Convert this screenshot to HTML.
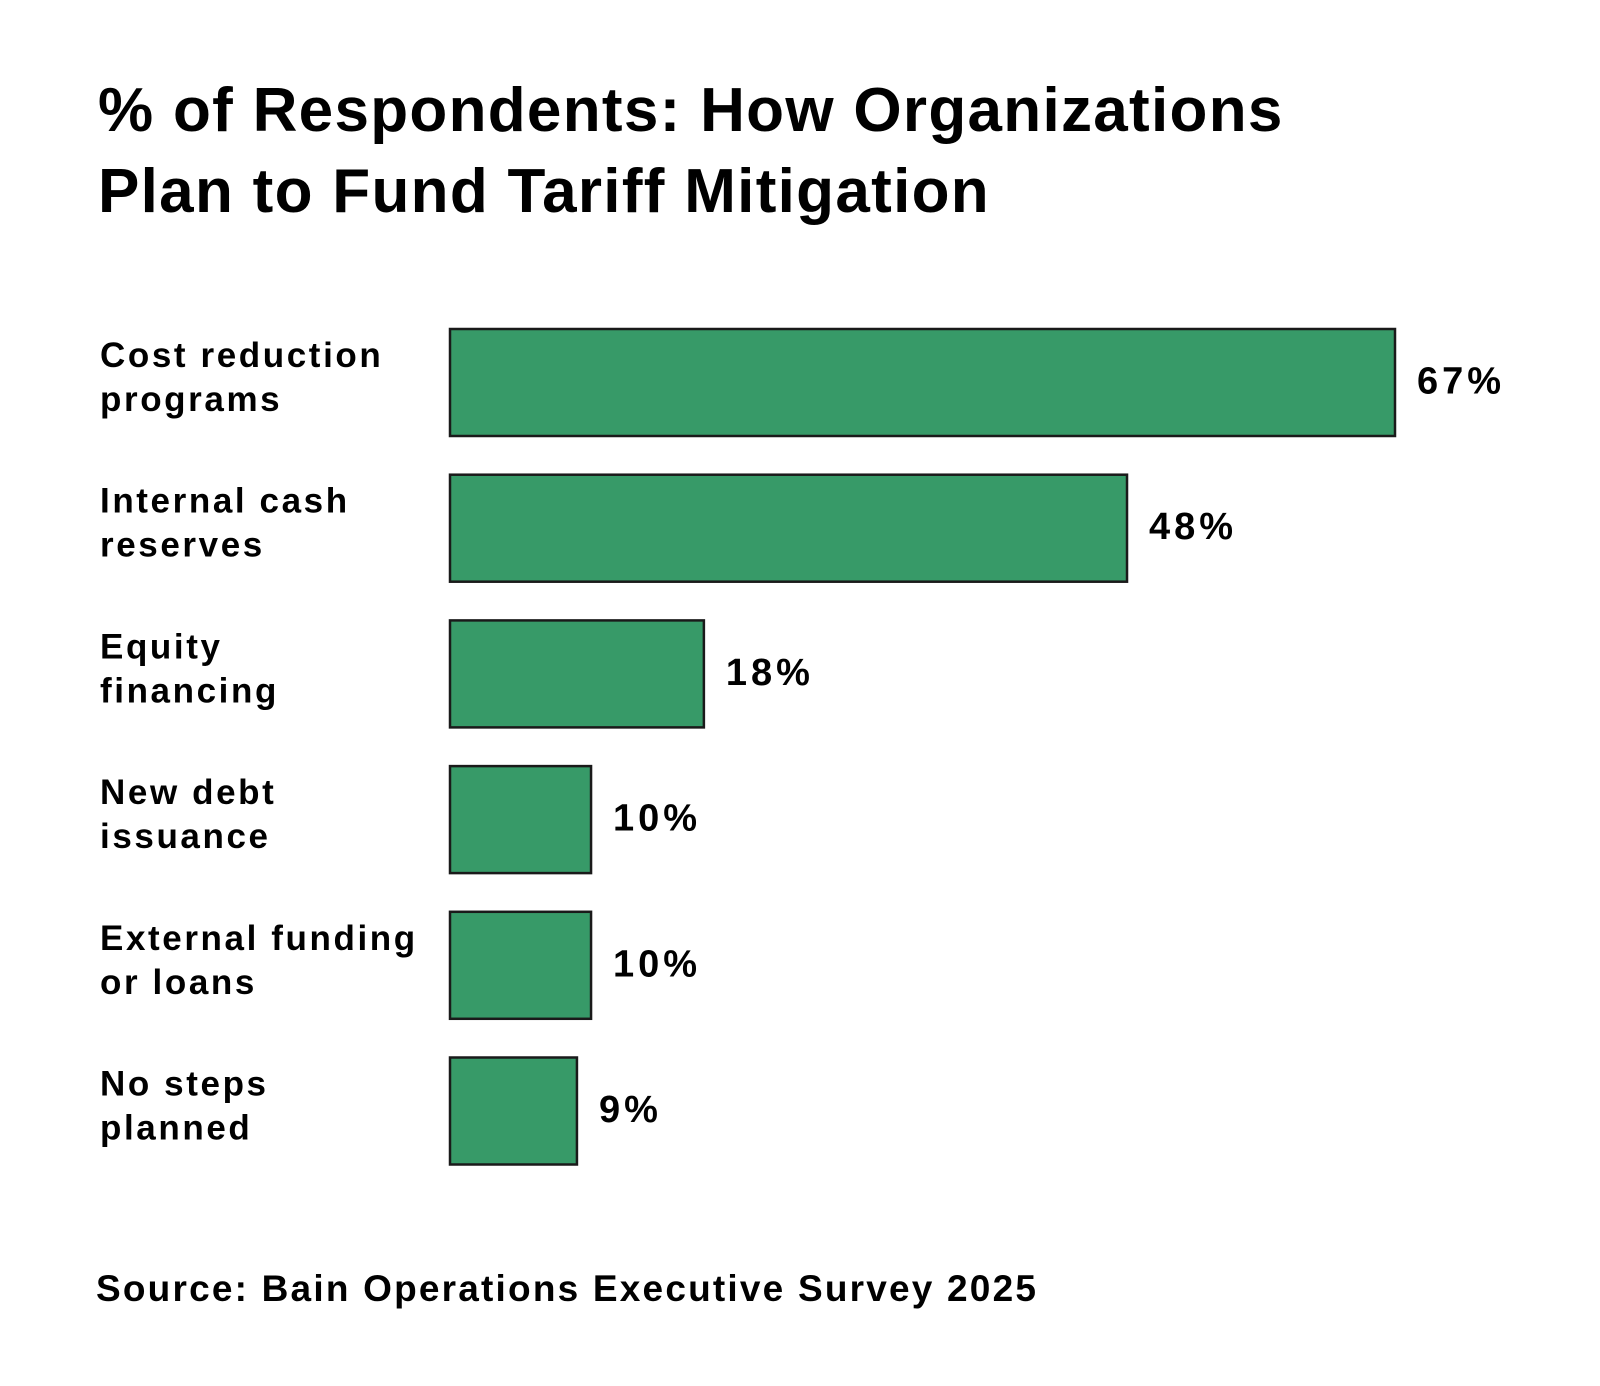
<!DOCTYPE html>
<html><head><meta charset="utf-8"><style>
html,body{margin:0;padding:0;background:#fff;}
svg{display:block;font-family:"Liberation Sans",sans-serif;font-weight:bold;}
</style></head><body>
<svg id="chart" width="1600" height="1386" viewBox="0 0 1600 1386">
<rect width="1600" height="1386" fill="#fff"/>
<text x="98" y="131" font-size="62" letter-spacing="1.3" fill="#000">% of Respondents: How Organizations</text>
<text x="98" y="212" font-size="62" letter-spacing="1.3" fill="#000">Plan to Fund Tariff Mitigation</text>
<g id="bars"></g>
<text x="96" y="1301" font-size="37" letter-spacing="2.2" fill="#000">Source: Bain Operations Executive Survey 2025</text>
</svg>
<script>
const categories = [["Cost reduction","programs"],["Internal cash","reserves"],["Equity","financing"],["New debt","issuance"],["External funding","or loans"],["No steps","planned"]];
const values = [67,48,18,10,10,9];
const valueLabels = ["67%","48%","18%","10%","10%","9%"];
const NS="http://www.w3.org/2000/svg";
const g=document.getElementById('bars');
const x0=450, pxPerPt=945/67, top0=329, step=145.7, bh=107;
function xScale(v){return v*pxPerPt;}
function yScale(i){return top0+i*step;}
values.forEach((v,i)=>{
  const y=yScale(i);
  const r=document.createElementNS(NS,'rect');
  
  
  r.setAttribute('x',x0);r.setAttribute('y',y);
  r.setAttribute('width',xScale(v));r.setAttribute('height',bh);
  r.setAttribute('fill','#379a68');r.setAttribute('stroke','#1a1a1a');r.setAttribute('stroke-width','2.5');
  g.appendChild(r);
  const t=document.createElementNS(NS,'text');
  
  
  t.setAttribute('x',x0+xScale(v)+22);t.setAttribute('y',y+bh/2+11);
  t.setAttribute('font-size','38');t.setAttribute('letter-spacing','4');t.textContent=valueLabels[i];
  g.appendChild(t);
  categories[i].forEach((line,j)=>{
    const c=document.createElementNS(NS,'text');
    
    
    c.setAttribute('x',100);c.setAttribute('y',y+38+j*44);
    c.setAttribute('font-size','35');c.setAttribute('letter-spacing','2.6');c.textContent=line;
    g.appendChild(c);
  });
});
</script>
</body></html>
